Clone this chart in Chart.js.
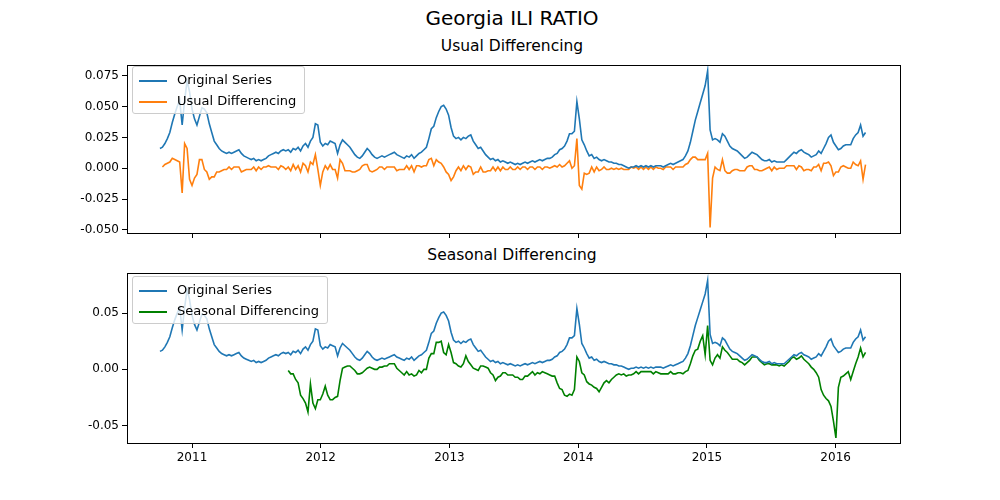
<!DOCTYPE html>
<html><head><meta charset="utf-8">
<script src="https://cdn.jsdelivr.net/npm/chart.js@4"></script>
<style>
body{margin:0;width:1000px;height:500px;background:#fff;font-family:"DejaVu Sans",sans-serif;position:relative;overflow:hidden}
.t{position:absolute;left:0;width:1000px;text-align:center;color:#000}
.c{position:absolute;left:0;width:1000px}
.lg{position:absolute;background:rgba(255,255,255,0.8);border:1px solid #ccc;border-radius:3px;font-size:13px;padding:2px 8px 2px 6px;line-height:21px}
.lg span{display:inline-block;width:28px;height:2px;vertical-align:middle;margin-right:10px}
</style></head><body>
<div class="t" style="top:6px;font-size:20px;left:12px">Georgia ILI RATIO</div>
<div class="t" style="top:37px;font-size:15.5px;left:12px">Usual Differencing</div>
<div class="t" style="top:246px;font-size:15.5px;left:12px">Seasonal Differencing</div>
<div class="c" style="top:55px;height:200px"><canvas id="c1"></canvas></div>
<div class="c" style="top:263px;height:237px"><canvas id="c2"></canvas></div>
<div class="lg" style="left:132px;top:66px"><div><span style="background:#1f77b4"></span>Original Series</div><div><span style="background:#ff7f0e"></span>Usual Differencing</div></div>
<div class="lg" style="left:132px;top:276px"><div><span style="background:#1f77b4"></span>Original Series</div><div><span style="background:#008000"></span>Seasonal Differencing</div></div>
<script>
const startYear = 2010.751;
const season2010 = [0.016,0.017,0.020,0.024,0.029,0.037,0.044,0.050,0.055,0.035,0.055,0.071,0.062,0.048,0.040,0.035,0.042,0.049,0.048,0.045,0.036,0.029,0.022,0.019,0.016,0.014,0.013,0.012,0.013,0.012,0.013,0.014,0.015,0.012,0.010,0.009,0.008,0.007,0.008,0.006,0.007,0.006,0.007,0.008,0.010,0.011,0.012,0.013,0.012,0.014,0.015,0.014];
const season2011 = [0.015,0.013,0.016,0.015,0.017,0.014,0.018,0.020,0.017,0.022,0.025,0.036,0.035,0.021,0.018,0.020,0.019,0.022,0.021,0.020,0.012,0.019,0.023,0.021,0.019,0.017,0.014,0.011,0.009,0.008,0.010,0.013,0.016,0.014,0.011,0.009,0.008,0.009,0.010,0.009,0.010,0.011,0.012,0.013,0.011,0.010,0.009,0.008,0.010,0.009,0.011,0.008];
const season2012 = [0.010,0.012,0.013,0.015,0.017,0.024,0.032,0.034,0.041,0.046,0.050,0.051,0.048,0.043,0.033,0.026,0.024,0.025,0.023,0.025,0.024,0.026,0.027,0.022,0.019,0.016,0.017,0.014,0.011,0.009,0.007,0.008,0.006,0.007,0.005,0.006,0.005,0.004,0.005,0.004,0.003,0.004,0.003,0.004,0.005,0.004,0.005,0.006,0.005,0.006,0.007,0.006];
const season2013 = [0.007,0.008,0.008,0.009,0.011,0.012,0.015,0.016,0.018,0.022,0.028,0.028,0.030,0.054,0.040,0.023,0.019,0.014,0.010,0.011,0.008,0.009,0.007,0.006,0.007,0.006,0.005,0.005,0.004,0.004,0.003,0.003,0.002,0.001,0.000,0.001,0.001,0.002,0.001,0.002,0.001,0.002,0.001,0.002,0.001,0.002,0.002,0.002,0.001,0.002,0.003,0.004];
const season2014 = [0.003,0.004,0.005,0.006,0.007,0.010,0.014,0.021,0.030,0.039,0.046,0.053,0.060,0.067,0.079,0.031,0.023,0.024,0.023,0.021,0.028,0.026,0.022,0.018,0.016,0.015,0.014,0.012,0.010,0.008,0.009,0.011,0.013,0.012,0.011,0.009,0.007,0.006,0.006,0.007,0.005,0.006,0.005,0.005,0.005,0.005,0.007,0.009,0.011,0.013,0.012,0.014];
const season2015 = [0.015,0.013,0.012,0.011,0.009,0.010,0.011,0.014,0.012,0.016,0.020,0.025,0.027,0.021,0.018,0.015,0.016,0.018,0.019,0.019,0.019,0.024,0.027,0.029,0.035,0.026,0.029];
const xTicks = [2011,2012,2013,2014,2015,2016];
const yTicksTop = [-0.050,-0.025,0.000,0.025,0.050,0.075];
const yTicksBottom = [-0.05,0.00,0.05];

const original = [].concat(season2010,season2011,season2012,season2013,season2014,season2015);
const wk = i => startYear + i*7/365.25;
const origPts = original.map((v,i)=>({x:wk(i),y:v}));
const usualPts = original.slice(1).map((v,i)=>({x:wk(i+1),y:+(v-original[i]).toFixed(4)}));
const seasPts = original.slice(52).map((v,i)=>({x:wk(i+52),y:+(v-original[i]).toFixed(4)}));

Chart.defaults.font.family = '"DejaVu Sans", sans-serif';
Chart.defaults.font.size = 12;
Chart.defaults.color = '#000';

const frame = {id:'frame',afterDraw(c){const a=c.chartArea,x=c.ctx;x.save();x.strokeStyle='#000';x.lineWidth=1;x.strokeRect(Math.round(a.left)+0.5,Math.round(a.top)+0.5,Math.round(a.right-a.left),Math.round(a.bottom-a.top));x.restore();}};

function mk(id, sets, ymin, ymax, yt, fmt, showX, xh){
  new Chart(document.getElementById(id), {
    type:'line',
    data:{datasets:sets.map(s=>({data:s[0],borderColor:s[1],borderWidth:1.6,pointRadius:0,tension:0,fill:false}))},
    options:{animation:false,responsive:true,maintainAspectRatio:false,
      layout:{padding:{top:5,right:100,left:0,bottom:0}},
      plugins:{legend:{display:false},tooltip:{enabled:false}},
      scales:{
        x:{type:'linear',min:2010.495,max:2016.5,grid:{display:true,drawOnChartArea:false,drawTicks:true,tickLength:5,tickColor:'#000'},border:{color:'#000'},
          afterBuildTicks:a=>{a.ticks=xTicks.map(v=>({value:v}))},
          afterFit:a=>{a.height=xh},
          ticks:{display:showX,maxRotation:0,callback:v=>String(v)}},
        y:{min:ymin,max:ymax,grid:{display:true,drawOnChartArea:false,drawTicks:true,tickLength:5,tickColor:'#000'},border:{color:'#000'},
          afterBuildTicks:a=>{a.ticks=yt.map(v=>({value:v}))},
          afterFit:a=>{a.width=127},
          ticks:{callback:v=>v.toFixed(fmt)}}
      }},
    plugins:[frame]
  });
}
mk('c1',[[origPts,'#1f77b4'],[usualPts,'#ff7f0e']],-0.0525,0.0835,yTicksTop,3,false,22);
mk('c2',[[origPts,'#1f77b4'],[seasPts,'#008000']],-0.0655,0.0855,yTicksBottom,2,true,57);
</script></body></html>
